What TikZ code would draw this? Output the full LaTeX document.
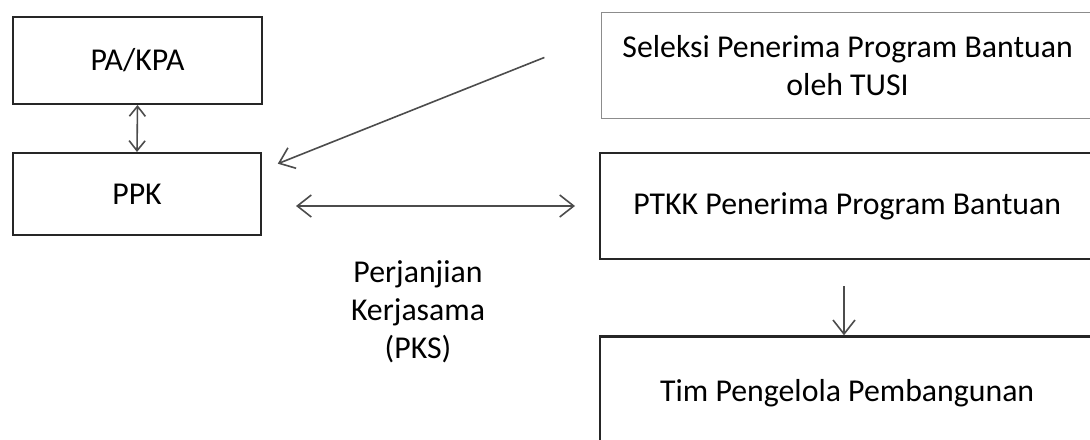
\documentclass[tikz,border=0pt]{standalone}
\usepackage{fontspec}
\setmainfont{Carlito}
\usepackage{tikz}
\usetikzlibrary{calc, arrows.meta}

\begin{document}
\begin{tikzpicture}[x=0.5pt, y=-0.5pt,
    font=\fontsize{15.9}{19}\selectfont,
    box/.style={draw=black!85, line width=1pt, inner sep=0pt, align=center},
    link/.style={draw=black!70, line width=0.8pt},
    bigbarb/.tip={Straight Barb[length=7pt, width=11pt, line width=0.8pt]},
    smallbarb/.tip={Straight Barb[length=5pt, width=8pt, line width=0.8pt]}]
      \clip (0,0) rectangle (1090,439);%
      \fill[white] (0,0) rectangle (1090,439);%

      % left column
      \node[box, minimum width=124.5pt, minimum height=43.5pt] (pa) at (137.5,60.5) {PA/KPA};%
      \node[box, minimum width=124pt, minimum height=41pt] (ppk) at (137,194) {PPK};%

      % right column (cut off at the right)
      \node[box, draw=black!45, line width=0.6pt, minimum width=254pt, minimum height=53pt, anchor=west] (sel) at (601,65.5)
        {\hspace*{-8pt}Seleksi Penerima Program Bantuan\\\hspace*{-8pt}oleh TUSI};%
      \node[box, line width=1.2pt, minimum width=254pt, minimum height=53pt, anchor=west] (ptkk) at (599,206)
        {\hspace*{-7pt}PTKK Penerima Program Bantuan};%
      \node[box, line width=1.2pt, minimum width=254pt, minimum height=56.5pt, anchor=west] (tim) at (599,393)
        {\hspace*{-7pt}Tim Pengelola Pembangunan};%

      \node[align=center] (pks) at (418,312) {Perjanjian\\Kerjasama\\(PKS)};%

      \coordinate (selA) at ($(sel.north west)+(0,23)$);%
      \coordinate (ppkA) at ($(ppk.north east)+(0,18)$);%

      \draw[link, smallbarb-smallbarb] (pa.south) -- (ppk.north);%
      \draw[link, -bigbarb, shorten >=8.5pt, shorten <=30.5pt] (selA) -- (ppkA);%
      \draw[link, bigbarb-bigbarb, shorten <=17pt, shorten >=12pt] (ppk.east |- ptkk) -- (ptkk.west);%
      \draw[link, -bigbarb, shorten <=13pt] (ptkk.south -| 844,0) -- (tim.north -| 844,0);%
    \end{tikzpicture}
\end{document}
